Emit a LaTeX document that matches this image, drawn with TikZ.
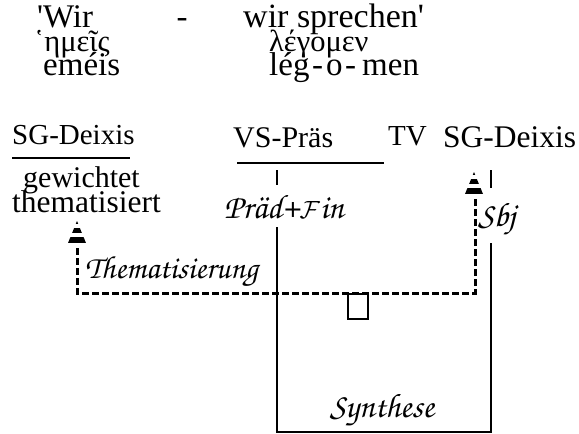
\documentclass[tikz,border=0pt]{standalone}
\usepackage{fontspec}
\setmainfont{Liberation Serif}[Ligatures=TeXOff]
\newfontfamily\chorus{texgyrechorus-mediumitalic.otf}

% striped arrow head: apex at (#1,#2), pointing up
\newcommand{\stripetip}[2]{%
  \begin{scope}
    \clip (#1,#2) -- ++(-9,22) -- ++(18,0) -- cycle;
    \foreach \a/\b in {0/3,7/12,16/22} \fill ({#1-10},{#2+\a}) rectangle ({#1+10},{#2+\b});
  \end{scope}}

\begin{document}
\begin{tikzpicture}[x=1pt,y=-1pt,
  big/.style={anchor=base west,inner sep=0pt,font=\fontsize{33}{35}\selectfont},
  grk/.style={anchor=base west,inner sep=0pt,font=\fontsize{30.5}{32}\selectfont},
  lbl/.style={anchor=base west,inner sep=0pt,font=\fontsize{30}{32}\selectfont},
  hand/.style={anchor=base west,inner sep=0pt,font=\chorus\fontsize{34}{36}\selectfont},
  rule/.style={line width=2.4pt},
  flow/.style={line width=3pt,dash pattern=on 7pt off 3pt}]
  \useasboundingbox (0,0) rectangle (579,434);
  % gloss, greek, transliteration
  \node[big] (wir) at (37,27) {'Wir};
  \node[big,anchor=base] (bind) at (182,27) {-};
  \node[big,font=\fontsize{34}{36}\selectfont] (spr) at (243,27) {wir sprechen'};
  \node[grk] (hemeis) at (34,51) {῾ημεῖς};
  \node[grk] (legomen) at (269,51) {λέγομεν};
  \node[big] (emeis) at (43,75) {eméis};
  \node[big] (leg) at (269,75) {lég};
  \node[big] (tvd1) at (312,75) {-};
  \node[big] (tvo) at (326,75) {o};
  \node[big] (tvd2) at (345,75) {-};
  \node[big] (men) at (362,75) {men};
  % categories
  \node[lbl,font=\fontsize{29}{31}\selectfont] (sgl) at (12,144) {SG-Deixis};
  \node[lbl] (gew) at (23,187) {gewichtet};
  \node[lbl,font=\fontsize{31.5}{33}\selectfont] (them) at (12,212) {thematisiert};
  \node[lbl] (vs) at (233,147) {VS-Präs};
  \node[lbl,font=\fontsize{29}{31}\selectfont] (tv) at (388,145) {TV};
  \node[lbl,font=\fontsize{31.5}{33}\selectfont] (sgr) at (443,147) {SG-Deixis};
  \node[hand] (pf) at (224,218) {Präd+$\mathcal{F}$in};
  \node[hand] (sbj) at (478,226) {Sbj};
  \node[hand,font=\chorus\fontsize{32}{34}\selectfont] (thz) at (85,278) {Thematisierung};
  \node[hand,anchor=base] (syn) at (382,417) {Synthese};
  \node[draw,line width=2pt,minimum width=20pt,minimum height=25pt,anchor=north] (slot) at (358,293) {};
  % end points
  \coordinate (ul1) at (12,158);  \coordinate (ul2) at (130,158);
  \coordinate (ul3) at (237,163); \coordinate (ul4) at (384,163);
  \coordinate (p1) at (277,170);  \coordinate (p2) at (277,185);
  \coordinate (p3) at (277,227);  \coordinate (bl) at (277,432);
  \coordinate (br) at (491,432);  \coordinate (s3) at (491,243);
  \coordinate (s1) at (491,170);  \coordinate (s2) at (491,188);
  \coordinate (d1) at (77,248);   \coordinate (d2) at (77,293);
  \coordinate (d3) at (475,293);  \coordinate (d4) at (475,196);
  \draw[rule] (ul1) -- (ul2);
  \draw[rule] (ul3) -- (ul4);
  \draw[rule] (p1) -- (p2);
  \draw[rule] (p3) -- (bl) -- (br) -- (s3);
  \draw[rule] (s1) -- (s2);
  \draw[flow] (d1) -- (d2) -- (d3) -- (d4);
  \stripetip{77}{221}
  \stripetip{474}{172}
\end{tikzpicture}
\end{document}
